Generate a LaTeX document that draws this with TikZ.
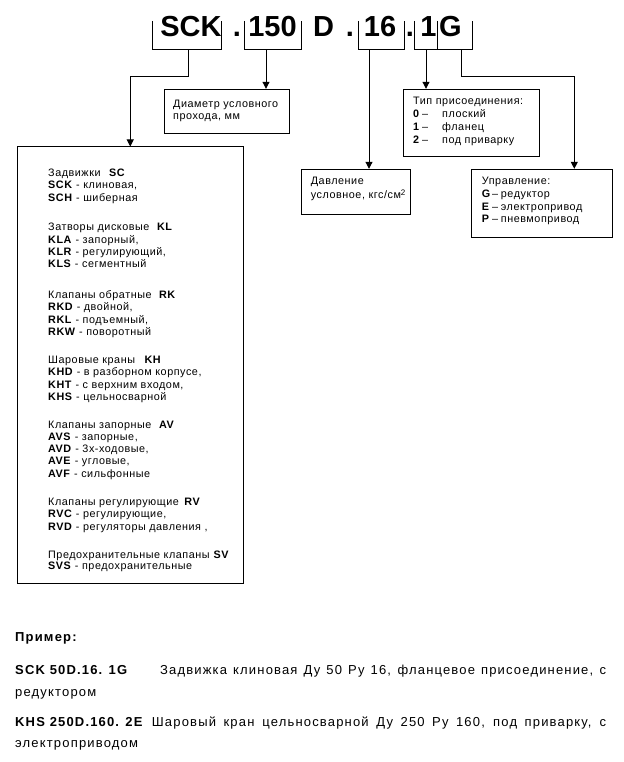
\documentclass[tikz,border=0pt]{standalone}
\usepackage{fontspec}
\setmainfont{Liberation Sans}
\newfontfamily\sfn[LetterSpace=5]{Liberation Sans}
\newfontfamily\botf[LetterSpace=9]{Liberation Sans}
\usetikzlibrary{arrows.meta,fit}
\newcommand\myrow[1]{\hbox{#1}}
\newcommand\myjrow[1]{\hbox to 591pt{#1}}
\newcommand\mylines[2]{\vtop{\baselineskip=#1\lineskiplimit=-20pt\lineskip=0pt #2}}
\newcommand\cd[2]{\makebox[#1][l]{\bfseries #2}}
\newcommand\supii{\raisebox{3.2pt}{\fontsize{8}{8}\selectfont 2}}
\tikzset{
  box/.style={draw, line width=1pt, inner sep=0pt},
  txt/.style={inner sep=0pt, anchor=base west, font=\sfn\fontsize{10.8}{12.4}\selectfont},
  code/.style={inner sep=0pt, anchor=base, font=\bfseries\fontsize{29}{30}\selectfont},
  bot/.style={inner sep=0pt, anchor=base west, font=\botf\fontsize{13}{15}\selectfont},
  arr/.style={line width=1pt, -{Triangle[length=7pt,width=7pt]}},
  brk/.style={line width=1pt}
}
\begin{document}
\begin{tikzpicture}[x=1pt,y=-1pt]
\useasboundingbox (0,0) rectangle (623,762);
\fill[white] (0,0) rectangle (623,762);

% code line
\node[code] (c1) at (191,37) {SCK};
\node[code] (d1) at (237,37) {.};
\node[code] (c2) at (272.5,37) {150};
\node[code] (cd) at (323.5,37) {D};
\node[code] (d2) at (350,37) {.};
\node[code] (c3) at (380,37) {16};
\node[code] (d3) at (410,37) {.};
\node[code] (c4) at (428.5,37) {1};
\node[code] (c5) at (450.5,37) {G};

% brackets
\draw[brk] (152,21) -- (152,50) -- (221,50) -- (221,21);
\draw[brk] (244,21) -- (244,50) -- (301,50) -- (301,21);
\draw[brk] (358,21) -- (358,50) -- (404,50) -- (404,21);
\draw[brk] (414,21) -- (414,50) -- (472,50) -- (472,21);
\draw[brk] (437,21) -- (437,50);
\coordinate (s1) at (188,50);
\coordinate (s2) at (266,50);
\coordinate (s3) at (369,50);
\coordinate (s4) at (426,50);
\coordinate (s5) at (461,50);

% boxes
\node[box, fit={(17.5,147) (243,583.5)}] (leftbox) {};
\node[box, fit={(164.3,89.3) (289.3,133.3)}] (diam) {};
\node[box, fit={(403.3,89.3) (539.3,156.7)}] (tip) {};
\node[box, fit={(301.7,169.3) (410,214)}] (dav) {};
\node[box, fit={(471.7,169.3) (612.7,237.3)}] (upr) {};

% connectors
\draw[arr] (s1) -- ++(0,27) -| (leftbox.north);
\draw[arr] (s2) -- (s2 |- diam.north);
\draw[arr] (s3) -- (s3 |- dav.north);
\draw[arr] (s4) -- (s4 |- tip.north);
\draw[arr] (s5) -- ++(0,27) -| ([xshift=32.1pt]upr.north);

% box texts
\node[txt] (tdiam) at (173,107.5) {\mylines{12.2pt}{\myrow{Диаметр условного}\myrow{прохода, мм}}};
\node[txt] (ttip) at (413,104.8) {\mylines{12.9pt}{%
  \myrow{Тип присоединения:}%
  \myrow{\cd{9pt}{0}\makebox[20pt][l]{–}плоский}%
  \myrow{\cd{9pt}{1}\makebox[20pt][l]{–}фланец}%
  \myrow{\cd{9pt}{2}\makebox[20pt][l]{–}под приварку}}};
\node[txt] (tdav) at (310.7,184.8) {\mylines{13.4pt}{\myrow{Давление}\myrow{условное, кгс/см\supii}}};
\node[txt] (tupr) at (481.7,184.8) {\mylines{12.6pt}{%
  \myrow{Управление:}%
  \myrow{\cd{10.3pt}{G}\makebox[8.7pt][l]{–}редуктор}%
  \myrow{\cd{10.3pt}{E}\makebox[8.7pt][l]{–}электропривод}%
  \myrow{\cd{10.3pt}{P}\makebox[8.7pt][l]{–}пневмопривод}}};

% left box groups
\node[txt] (g1) at (48,176.6) {\mylines{12.4pt}{%
  \myrow{Задвижки\hspace{8pt}\textbf{SC}}%
  \myrow{\textbf{SCK} - клиновая,}%
  \myrow{\textbf{SCH} - шиберная}}};
\node[txt] (g2) at (48,230.6) {\mylines{12.4pt}{%
  \myrow{Затворы дисковые\hspace{7pt}\textbf{KL}}%
  \myrow{\textbf{KLA} - запорный,}%
  \myrow{\textbf{KLR} - регулирующий,}%
  \myrow{\textbf{KLS} - сегментный}}};
\node[txt] (g3) at (48,298.3) {\mylines{12.4pt}{%
  \myrow{Клапаны обратные\hspace{7pt}\textbf{RK}}%
  \myrow{\textbf{RKD} - двойной,}%
  \myrow{\textbf{RKL} - подъемный,}%
  \myrow{\textbf{RKW} - поворотный}}};
\node[txt] (g4) at (48,363.3) {\mylines{12.4pt}{%
  \myrow{Шаровые краны\hspace{9pt}\textbf{KH}}%
  \myrow{\textbf{KHD} - в разборном корпусе,}%
  \myrow{\textbf{KHT} - с верхним входом,}%
  \myrow{\textbf{KHS} - цельносварной}}};
\node[txt] (g5) at (48,428.3) {\mylines{12.2pt}{%
  \myrow{Клапаны запорные\hspace{7pt}\textbf{AV}}%
  \myrow{\textbf{AVS} - запорные,}%
  \myrow{\textbf{AVD} - 3х-ходовые,}%
  \myrow{\textbf{AVE} - угловые,}%
  \myrow{\textbf{AVF} - сильфонные}}};
\node[txt] (g6) at (48,505) {\mylines{12.5pt}{%
  \myrow{Клапаны регулирующие\hspace{5pt}\textbf{RV}}%
  \myrow{\textbf{RVC} - регулирующие,}%
  \myrow{\textbf{RVD} - регуляторы давления ,}}};
\node[txt] (g7) at (48,558.3) {\mylines{11.4pt}{%
  \myrow{Предохранительные клапаны \textbf{SV}}%
  \myrow{\textbf{SVS} - предохранительные}}};

% example
\node[bot] (pr) at (15,641) {\bfseries Пример:};
\node[bot] (ex1) at (15,674) {\mylines{22pt}{%
  \myjrow{\makebox[145pt][l]{\bfseries SCK 50D.16. 1G}Задвижка клиновая Ду 50 Ру 16, фланцевое присоединение, с}%
  \myrow{редуктором}}};
\node[bot] (ex2) at (15,726) {\mylines{21.7pt}{%
  \myjrow{\makebox[136.7pt][l]{\bfseries KHS 250D.160. 2E}Шаровый кран\hspace{8pt}цельносварной Ду 250 Ру 160, под приварку, с}%
  \myrow{электроприводом}}};
\end{tikzpicture}
\end{document}
